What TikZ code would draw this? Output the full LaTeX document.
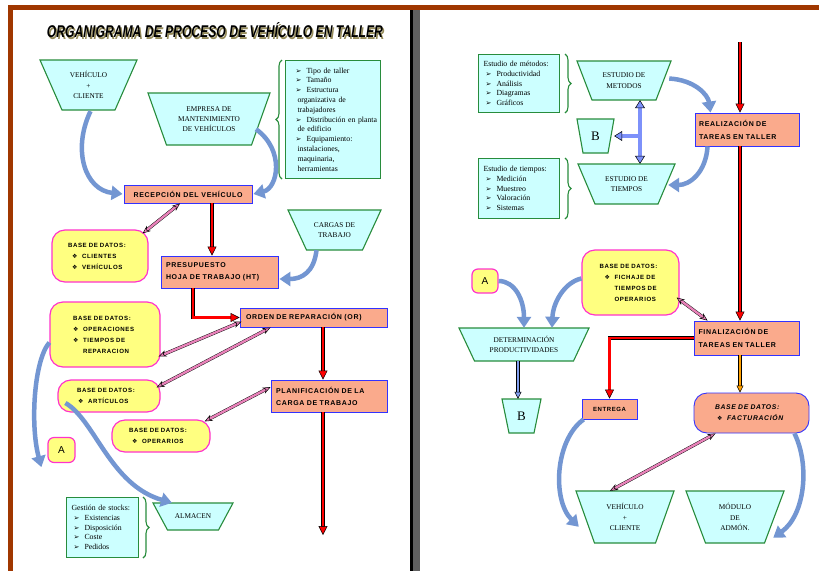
\documentclass[tikz,border=0pt]{standalone}
\usepackage{fontspec}
\usepackage{graphicx}
\setmainfont{Liberation Serif}
\newfontfamily\boxfont[LetterSpace=10]{Liberation Sans}
\newfontfamily\plainsans{Liberation Sans}
\newfontfamily\symfont{DejaVu Sans}
\usetikzlibrary{arrows.meta,calc,decorations.pathreplacing}

\definecolor{trapfill}{RGB}{204,255,255}
\definecolor{trapline}{RGB}{40,140,60}
\definecolor{salmon}{RGB}{250,170,140}
\definecolor{boxblue}{RGB}{50,50,255}
\definecolor{bdyellow}{RGB}{255,255,128}
\definecolor{bdmag}{RGB}{255,51,204}
\definecolor{curveblue}{RGB}{115,150,210}
\definecolor{pinkc}{RGB}{232,130,185}
\definecolor{periw}{RGB}{125,145,250}
\definecolor{lightblu}{RGB}{130,160,240}
\definecolor{brownc}{RGB}{160,55,0}
\definecolor{orangec}{RGB}{255,160,0}
\definecolor{shadowc}{RGB}{150,140,90}

\newcommand\bularr{\makebox[11pt][l]{\symfont\fontsize{7}{5}\selectfont ➢}}
\newcommand\bdbul{\makebox[10pt][l]{\symfont\fontsize{6}{5}\selectfont ❖}}
\newcommand\orgtitle{\resizebox{336pt}{15pt}{\plainsans\bfseries\itshape ORGANIGRAMA DE PROCESO DE VEHÍCULO EN TALLER}}
% name, cx, top y, top width, bottom width, height, text
\newcommand\trapz[7]{%
  \draw[trap] ({#2-#4/2},#3) -- ({#2+#4/2},#3) -- ({#2+#5/2},{#3+#6}) -- ({#2-#5/2},{#3+#6}) -- cycle;
  \node[traptext, minimum width=#4pt, minimum height=#6pt] (#1) at (#2,{#3+#6/2}) {#7};}

\begin{document}
\begin{tikzpicture}[x=1pt,y=-1pt,
  trap/.style={fill=trapfill,draw=trapline,line width=1.1pt},
  traptext/.style={inner sep=0pt,align=center,font=\fontsize{7.3}{10.3}\selectfont},
  sbox/.style={fill=salmon,draw=boxblue,line width=0.9pt,inner sep=0pt,align=left,font=\boxfont\bfseries\fontsize{7}{12}\selectfont},
  bd/.style={fill=bdyellow,draw=bdmag,line width=1.2pt,rounded corners=13pt,inner sep=0pt,align=left,font=\boxfont\bfseries\fontsize{6.1}{11}\selectfont},
  abox/.style={fill=bdyellow,draw=bdmag,line width=1.2pt,rounded corners=6pt,inner sep=0pt,minimum width=27pt,minimum height=25pt,font=\plainsans\fontsize{10}{10}\selectfont},
  info/.style={fill=trapfill,draw=trapline,line width=1pt,inner xsep=0.5pt,inner ysep=0pt,anchor=north west,align=left,font=\fontsize{7.8}{9.8}\selectfont},
  gbrace/.style={draw=trapline,line width=1.1pt,decorate,decoration={brace,amplitude=6pt}},
  bluecurve/.style={draw=curveblue,line width=4.5pt,-{Triangle[length=11pt,width=14pt]}},
  redarr/.style={draw=red,line width=2.6pt,-{Triangle[length=9pt,width=9pt,color=black,fill=red,line width=0.5pt]},
     preaction={draw=black,line width=3.6pt,-,shorten >=8pt}},
  pinkarr/.style={draw=pinkc,line width=2.4pt,
     {Stealth[length=8pt,width=6.5pt,color=black,fill=pinkc,line width=0.5pt]}-{Stealth[length=8pt,width=6.5pt,color=black,fill=pinkc,line width=0.5pt]},
     preaction={draw=black,line width=3.2pt,-,shorten >=6pt,shorten <=6pt}},
  periarr/.style={draw=periw,line width=3.6pt,-{Triangle[length=8pt,width=10pt,color=black,fill=periw,line width=0.5pt]},
     preaction={draw=black,line width=4.5pt,-,shorten >=7pt}},
  peridouble/.style={draw=periw,line width=3.6pt,
     {Triangle[length=8pt,width=10pt,color=black,fill=periw,line width=0.5pt]}-{Triangle[length=8pt,width=10pt,color=black,fill=periw,line width=0.5pt]},
     preaction={draw=black,line width=4.5pt,-,shorten >=7pt,shorten <=7pt}},
  lbarr/.style={draw=lightblu,line width=2.4pt,-{Triangle[length=7pt,width=7pt,color=black,fill=lightblu,line width=0.5pt]},
     preaction={draw=black,line width=3.2pt,-,shorten >=6pt}},
  orarr/.style={draw=orangec,line width=2.4pt,-{Triangle[length=7pt,width=7pt,color=black,fill=orangec,line width=0.5pt]},
     preaction={draw=black,line width=3.2pt,-,shorten >=6pt}}
]
\useasboundingbox (0,0) rectangle (819,571);
\fill[white] (0,0) rectangle (819,571);
% page frames
\fill[brownc] (8,5) rectangle (819,10);
\fill[brownc] (8,5) rectangle (13,571);
\fill[black] (410,10) rectangle (413,571);
\fill[gray!75!black] (413,10) rectangle (420,571);

% title
\node[text=shadowc,inner sep=0pt] (titleshadow) at (216.5,32) {\orgtitle};
\node[inner sep=0pt] (title) at (215,30.5) {\orgtitle};

% ===== LEFT PANEL =====
\trapz{vc1}{88.5}{60}{97}{53}{50}{VEHÍCULO\\+\\CLIENTE}
\trapz{emp}{209}{93}{122}{85}{52}{EMPRESA DE\\MANTENIMIENTO\\DE VEHÍCULOS}
\trapz{carg}{334.5}{210}{93}{56}{40}{CARGAS DE\\TRABAJO}
\trapz{alm}{193}{503}{80}{51}{27}{ALMACEN}

\node[info,minimum width=95pt,minimum height=118pt,text width=94pt] (inf1) at (285,60)
 {\hspace*{9.5pt}\bularr Tipo de taller\\
  \hspace*{9.5pt}\bularr Tamaño\\
  \hspace*{9.5pt}\bularr Estructura\\
  \hspace*{11.5pt}organizativa de\\
  \hspace*{11.5pt}trabajadores\\
  \hspace*{9.5pt}\bularr Distribución en planta\\
  \hspace*{11.5pt}de edificio\\
  \hspace*{9.5pt}\bularr Equipamiento:\\
  \hspace*{11.5pt}instalaciones,\\
  \hspace*{11.5pt}maquinaria,\\
  \hspace*{11.5pt}herramientas};
\draw[gbrace] ($(inf1.south west)+(-3,0)$) -- ($(inf1.north west)+(-3,0)$);

\node[info,minimum width=72pt,minimum height=60pt,text width=71pt] (inf2) at (66,497)
 {\hspace*{4.5pt}Gestión de stocks:\\
  \hspace*{6.5pt}\bularr Existencias\\
  \hspace*{6.5pt}\bularr Disposición\\
  \hspace*{6.5pt}\bularr Coste\\
  \hspace*{6.5pt}\bularr Pedidos};
\draw[gbrace] ($(inf2.north east)+(4,0)$) -- ($(inf2.south east)+(4,0)$);

\node[sbox,minimum width=128pt,minimum height=18pt,align=center] (rec) at (188,194) {RECEPCIÓN DEL VEHÍCULO};
\node[sbox,minimum width=117pt,minimum height=32pt,text width=107pt] (pres) at (219.5,272) {PRESUPUESTO\\HOJA DE TRABAJO (HT)};
\node[sbox,minimum width=147pt,minimum height=19pt,text width=135pt] (orden) at (313.5,317.5) {ORDEN DE REPARACIÓN (OR)};
\node[sbox,minimum width=116pt,minimum height=32pt,text width=106pt] (plan) at (329,396) {PLANIFICACIÓN DE LA\\CARGA DE TRABAJO};

\node[bd,minimum width=96pt,minimum height=52pt,text width=64pt] (bd1) at (100,256)
 {BASE DE DATOS:\\\hspace*{4pt}\bdbul CLIENTES\\\hspace*{4pt}\bdbul VEHÍCULOS};
\node[bd,minimum width=110pt,minimum height=65pt,text width=64pt] (bd2) at (105,334.5)
 {BASE DE DATOS:\\\bdbul OPERACIONES\\\bdbul TIEMPOS DE\\\hspace*{10pt}REPARACION};
\node[bd,minimum width=102pt,minimum height=32pt,text width=64pt] (bd3) at (109,396)
 {BASE DE DATOS:\\\hspace*{1pt}\bdbul ARTÍCULOS};
\node[bd,minimum width=98pt,minimum height=32pt,text width=64pt] (bd4) at (161,436)
 {BASE DE DATOS:\\\hspace*{3pt}\bdbul OPERARIOS};
\node[abox] (aL) at (61.5,450) {A};

\coordinate (endL) at (323,535);

% red flow
\draw[redarr] ($(rec.south)+(24,0)$) -- ($(pres.north)+(-7.5,0)$);
\draw[redarr] ($(pres.south)+(-26.5,0)$) |- (orden.west);
\draw[redarr] ($(orden.south)+(9.5,0)$) -- ($(plan.north)+(-6,0)$);
\draw[redarr] ($(plan.south)+(-6,0)$) -- (endL);

% pink database links
\draw[pinkarr] ($(rec.south)+(-8,0)$) -- ($(bd1.north east)+(-6,4)$);
\draw[pinkarr] ($(orden.west)+(2,4)$) -- ($(bd2.east)+(-2,22)$);
\draw[pinkarr] ($(orden.south)+(-43,0)$) -- ($(bd3.north east)+(-4,8)$);
\draw[pinkarr] ($(plan.west)+(0,-9)$) -- ($(bd4.north east)+(-6,2)$);

% blue curved arrows
\draw[bluecurve] ($(vc1.south)+(2,1)$) .. controls (72,150) and (85,190) .. ($(rec.west)+(-1,0)$);
\draw[bluecurve] ($(emp.south)+(47,-16)$) .. controls (285,150) and (278,188) .. ($(rec.east)+(1,0)$);
\draw[bluecurve] ($(carg.south)+(-18,0)$) .. controls (314,272) and (302,279) .. ($(pres.east)+(1,7)$);
\draw[bluecurve] ($(bd2.west)+(0,8)$) .. controls (34,360) and (30,425) .. ($(aL.south west)+(-6,4)$);
\draw[bluecurve] ($(bd3.west)+(8,7)$) .. controls (95,420) and (110,485) .. ($(alm.north)+(-21,0)$);

% ===== RIGHT PANEL =====
\node[info,minimum width=81pt,minimum height=58pt,text width=80pt] (inf3) at (478,54)
 {\hspace*{4.5pt}Estudio de métodos:\\
  \hspace*{6.5pt}\bularr Productividad\\
  \hspace*{6.5pt}\bularr Análisis\\
  \hspace*{6.5pt}\bularr Diagramas\\
  \hspace*{6.5pt}\bularr Gráficos};
\draw[gbrace] ($(inf3.north east)+(5,0)$) -- ($(inf3.south east)+(5,0)$);
\node[info,minimum width=81pt,minimum height=60pt,text width=80pt] (inf4) at (478,158)
 {\hspace*{4.5pt}Estudio de tiempos:\\
  \hspace*{6.5pt}\bularr Medición\\
  \hspace*{6.5pt}\bularr Muestreo\\
  \hspace*{6.5pt}\bularr Valoración\\
  \hspace*{6.5pt}\bularr Sistemas};
\draw[gbrace] ($(inf4.north east)+(5,0)$) -- ($(inf4.south east)+(5,0)$);

\trapz{met}{624}{61}{94}{64}{39}{ESTUDIO DE\\METODOS}
\trapz{Bu}{595.5}{119}{37}{25}{34}{\fontsize{13}{13}\selectfont B}
\trapz{tie}{626.5}{164}{97}{63}{40}{ESTUDIO DE\\TIEMPOS}
\trapz{det}{524}{328}{130}{99}{33}{DETERMINACIÓN\\PRODUCTIVIDADES}
\trapz{Bl}{521.5}{399}{39}{25}{34}{\fontsize{13}{13}\selectfont B}
\trapz{vc2}{625}{491}{98}{61}{52}{VEHÍCULO\\+\\CLIENTE}
\trapz{mod}{735}{491}{98}{59}{52}{MÓDULO\\DE\\ADMÓN.}

\node[sbox,minimum width=104pt,minimum height=33pt,text width=96pt,font=\boxfont\bfseries\fontsize{7}{13}\selectfont] (real) at (747,129.5) {REALIZACIÓN DE\\TAREAS EN TALLER};
\node[sbox,minimum width=105pt,minimum height=34pt,text width=96pt,font=\boxfont\bfseries\fontsize{7}{13}\selectfont] (fin) at (746.5,338) {FINALIZACIÓN DE\\TAREAS EN TALLER};
\node[sbox,minimum width=55pt,minimum height=20pt,align=center,font=\boxfont\bfseries\fontsize{6}{6}\selectfont] (entrega) at (609.5,409) {ENTREGA};
\node[sbox,rounded corners=13pt,minimum width=115pt,minimum height=40pt,text width=73pt,font=\boxfont\bfseries\itshape\fontsize{6.8}{11}\selectfont] (fact) at (751.5,413)
 {BASE DE DATOS:\\\hspace*{2pt}\bdbul FACTURACIÓN};
\node[bd,minimum width=97pt,minimum height=65pt,text width=62pt] (bd5) at (630.5,282.5)
 {BASE DE DATOS:\\\hspace*{5pt}\bdbul FICHAJE DE\\\hspace*{15pt}TIEMPOS DE\\\hspace*{15pt}OPERARIOS};
\node[abox,minimum width=26pt,minimum height=24pt] (aR) at (485,281) {A};

\coordinate (startR) at (740,42);
\coordinate (jn) at (640,136);

% red / orange flow
\draw[redarr] (startR) -- ($(real.north)+(-7,0)$);
\draw[redarr] ($(real.south)+(-7,0)$) -- ($(fin.north)+(-6.5,0)$);
\draw[redarr] (fin.west) -| (entrega.north);
\draw[orarr] ($(fin.south)+(-6.5,0)$) -- ($(fact.north)+(-11.5,0)$);

% study arrows
\draw[periarr] (jn) -- (Bu.east);
\draw[peridouble] ($(met.south)+(16,0)$) -- ($(tie.north)+(13.5,0)$);
\draw[lbarr] ($(det.south)+(-6,0)$) -- ($(Bl.north)+(-3.5,0)$);

% pink links
\draw[pinkarr] ($(fin.north west)+(14,0)$) -- ($(bd5.east)+(-3,15)$);
\draw[pinkarr] ($(fact.south)+(-36,0)$) -- ($(vc2.north)+(-15,0)$);

% blue curved arrows
\draw[bluecurve] ($(met.east)+(-2,-2)$) .. controls (695,80) and (708,95) .. ($(real.north west)+(16,0)$);
\draw[bluecurve] ($(real.south west)+(13,0)$) .. controls (706,172) and (690,185) .. ($(tie.east)+(-7,1)$);
\draw[bluecurve] (aR.east) .. controls (515,281) and (524,300) .. (det.north);
\draw[bluecurve] ($(bd5.west)+(0,-4)$) .. controls (565,282) and (553,302) .. ($(det.north)+(28,0)$);
\draw[bluecurve] ($(entrega.south west)+(2,0)$) .. controls (555,440) and (552,500) .. ($(vc2.north west)+(3,36)$);
\draw[bluecurve] ($(fact.south east)+(-15,0)$) .. controls (810,465) and (805,515) .. ($(mod.north east)+(-11,47)$);
\end{tikzpicture}
\end{document}
